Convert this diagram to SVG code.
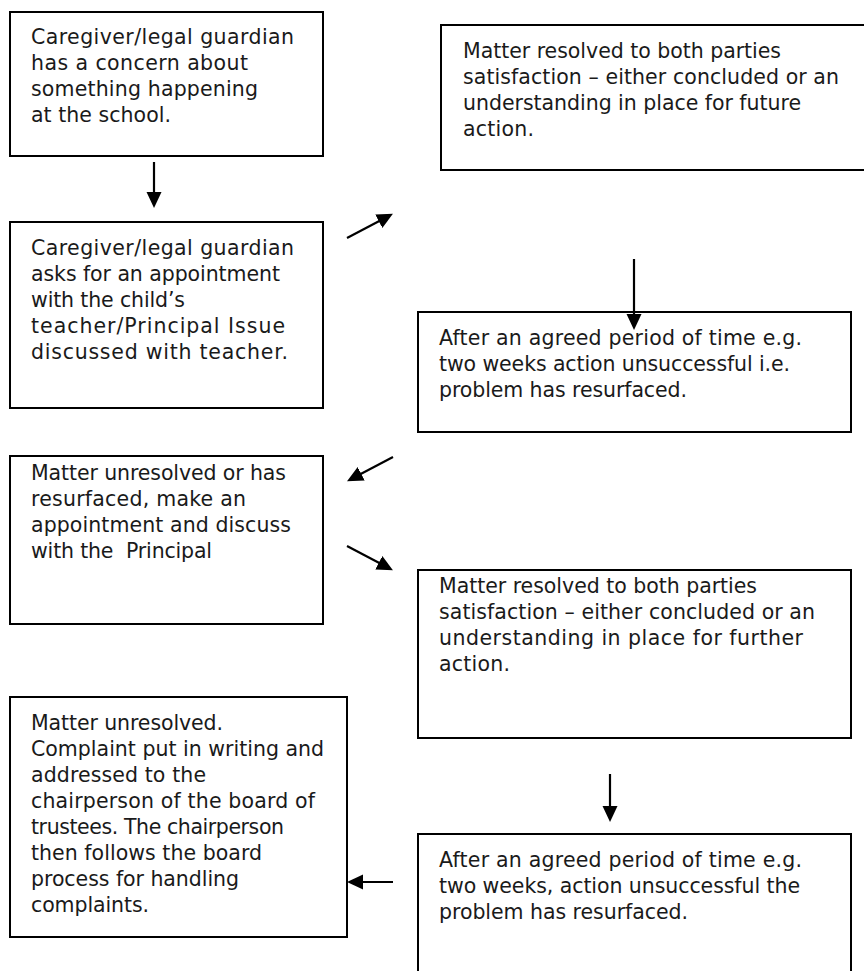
<svg xmlns="http://www.w3.org/2000/svg" width="864" height="971" viewBox="0 0 864 971">
<style>
.box{fill:#fff;stroke:#000;stroke-width:2}
.t{font-family:"DejaVu Sans","Liberation Sans",sans-serif;font-size:20.5px;fill:#1a1a1a}
.c{stroke:#000;stroke-width:2.2;fill:none;marker-end:url(#ah)}
</style>
<defs>
<marker id="ah" markerUnits="userSpaceOnUse" markerWidth="17" markerHeight="17" viewBox="0 0 17 17" refX="7" refY="8.5" orient="auto">
<path d="M0,1 L16,8.5 L0,16 Z" fill="#000"/>
</marker>
</defs>
<rect width="864" height="971" fill="#fff"/>
<g id="n1">
<rect class="box" x="10" y="12" width="313" height="144"/>
<text class="t" x="31" y="44" textLength="263">Caregiver/legal guardian</text>
<text class="t" x="31" y="70" textLength="217">has a concern about</text>
<text class="t" x="31" y="96" textLength="227">something happening</text>
<text class="t" x="31" y="122" textLength="140">at the school.</text>
</g>
<g id="n2">
<rect class="box" x="441" y="25" width="432" height="145"/>
<text class="t" x="463" y="58" textLength="318">Matter resolved to both parties</text>
<text class="t" x="463" y="84" textLength="376">satisfaction – either concluded or an</text>
<text class="t" x="463" y="110" textLength="338">understanding in place for future</text>
<text class="t" x="463" y="136" textLength="71">action.</text>
</g>
<g id="n3">
<rect class="box" x="10" y="222" width="313" height="186"/>
<text class="t" x="31" y="255" textLength="263">Caregiver/legal guardian</text>
<text class="t" x="31" y="281" textLength="249">asks for an appointment</text>
<text class="t" x="31" y="307" textLength="154">with the child’s</text>
<text class="t" x="31" y="333" textLength="254">teacher/Principal Issue</text>
<text class="t" x="31" y="359" textLength="257">discussed with teacher.</text>
</g>
<g id="n4">
<rect class="box" x="418" y="312" width="433" height="120"/>
<text class="t" x="439" y="345" textLength="363">After an agreed period of time e.g.</text>
<text class="t" x="439" y="371" textLength="351">two weeks action unsuccessful i.e.</text>
<text class="t" x="439" y="397" textLength="248">problem has resurfaced.</text>
</g>
<g id="n5">
<rect class="box" x="10" y="456" width="313" height="168"/>
<text class="t" x="31" y="480" textLength="255">Matter unresolved or has</text>
<text class="t" x="31" y="506" textLength="215">resurfaced, make an</text>
<text class="t" x="31" y="532" textLength="260">appointment and discuss</text>
<text class="t" x="31" y="558" textLength="181" xml:space="preserve">with the  Principal</text>
</g>
<g id="n6">
<rect class="box" x="418" y="570" width="433" height="168"/>
<text class="t" x="439" y="593" textLength="318">Matter resolved to both parties</text>
<text class="t" x="439" y="619" textLength="376">satisfaction – either concluded or an</text>
<text class="t" x="439" y="645" textLength="364">understanding in place for further</text>
<text class="t" x="439" y="671" textLength="71">action.</text>
</g>
<g id="n7">
<rect class="box" x="10" y="697" width="337" height="240"/>
<text class="t" x="31" y="730" textLength="192">Matter unresolved.</text>
<text class="t" x="31" y="756" textLength="293">Complaint put in writing and</text>
<text class="t" x="31" y="782" textLength="175">addressed to the</text>
<text class="t" x="31" y="808" textLength="284">chairperson of the board of</text>
<text class="t" x="31" y="834" textLength="253">trustees. The chairperson</text>
<text class="t" x="31" y="860" textLength="231">then follows the board</text>
<text class="t" x="31" y="886" textLength="208">process for handling</text>
<text class="t" x="31" y="912" textLength="118">complaints.</text>
</g>
<g id="n8">
<rect class="box" x="418" y="834" width="433" height="150"/>
<text class="t" x="439" y="867" textLength="363">After an agreed period of time e.g.</text>
<text class="t" x="439" y="893" textLength="361">two weeks, action unsuccessful the</text>
<text class="t" x="439" y="919" textLength="249">problem has resurfaced.</text>
</g>
<g id="connectors">
<line class="c" x1="154" y1="162" x2="154" y2="199"/>
<line class="c" x1="347" y1="238" x2="385" y2="218"/>
<line class="c" x1="634" y1="259" x2="634" y2="321"/>
<line class="c" x1="393" y1="457" x2="355" y2="477"/>
<line class="c" x1="347" y1="546" x2="385" y2="566"/>
<line class="c" x1="610" y1="774" x2="610" y2="813"/>
<line class="c" x1="393" y1="882" x2="356" y2="882"/>
</g>
</svg>
